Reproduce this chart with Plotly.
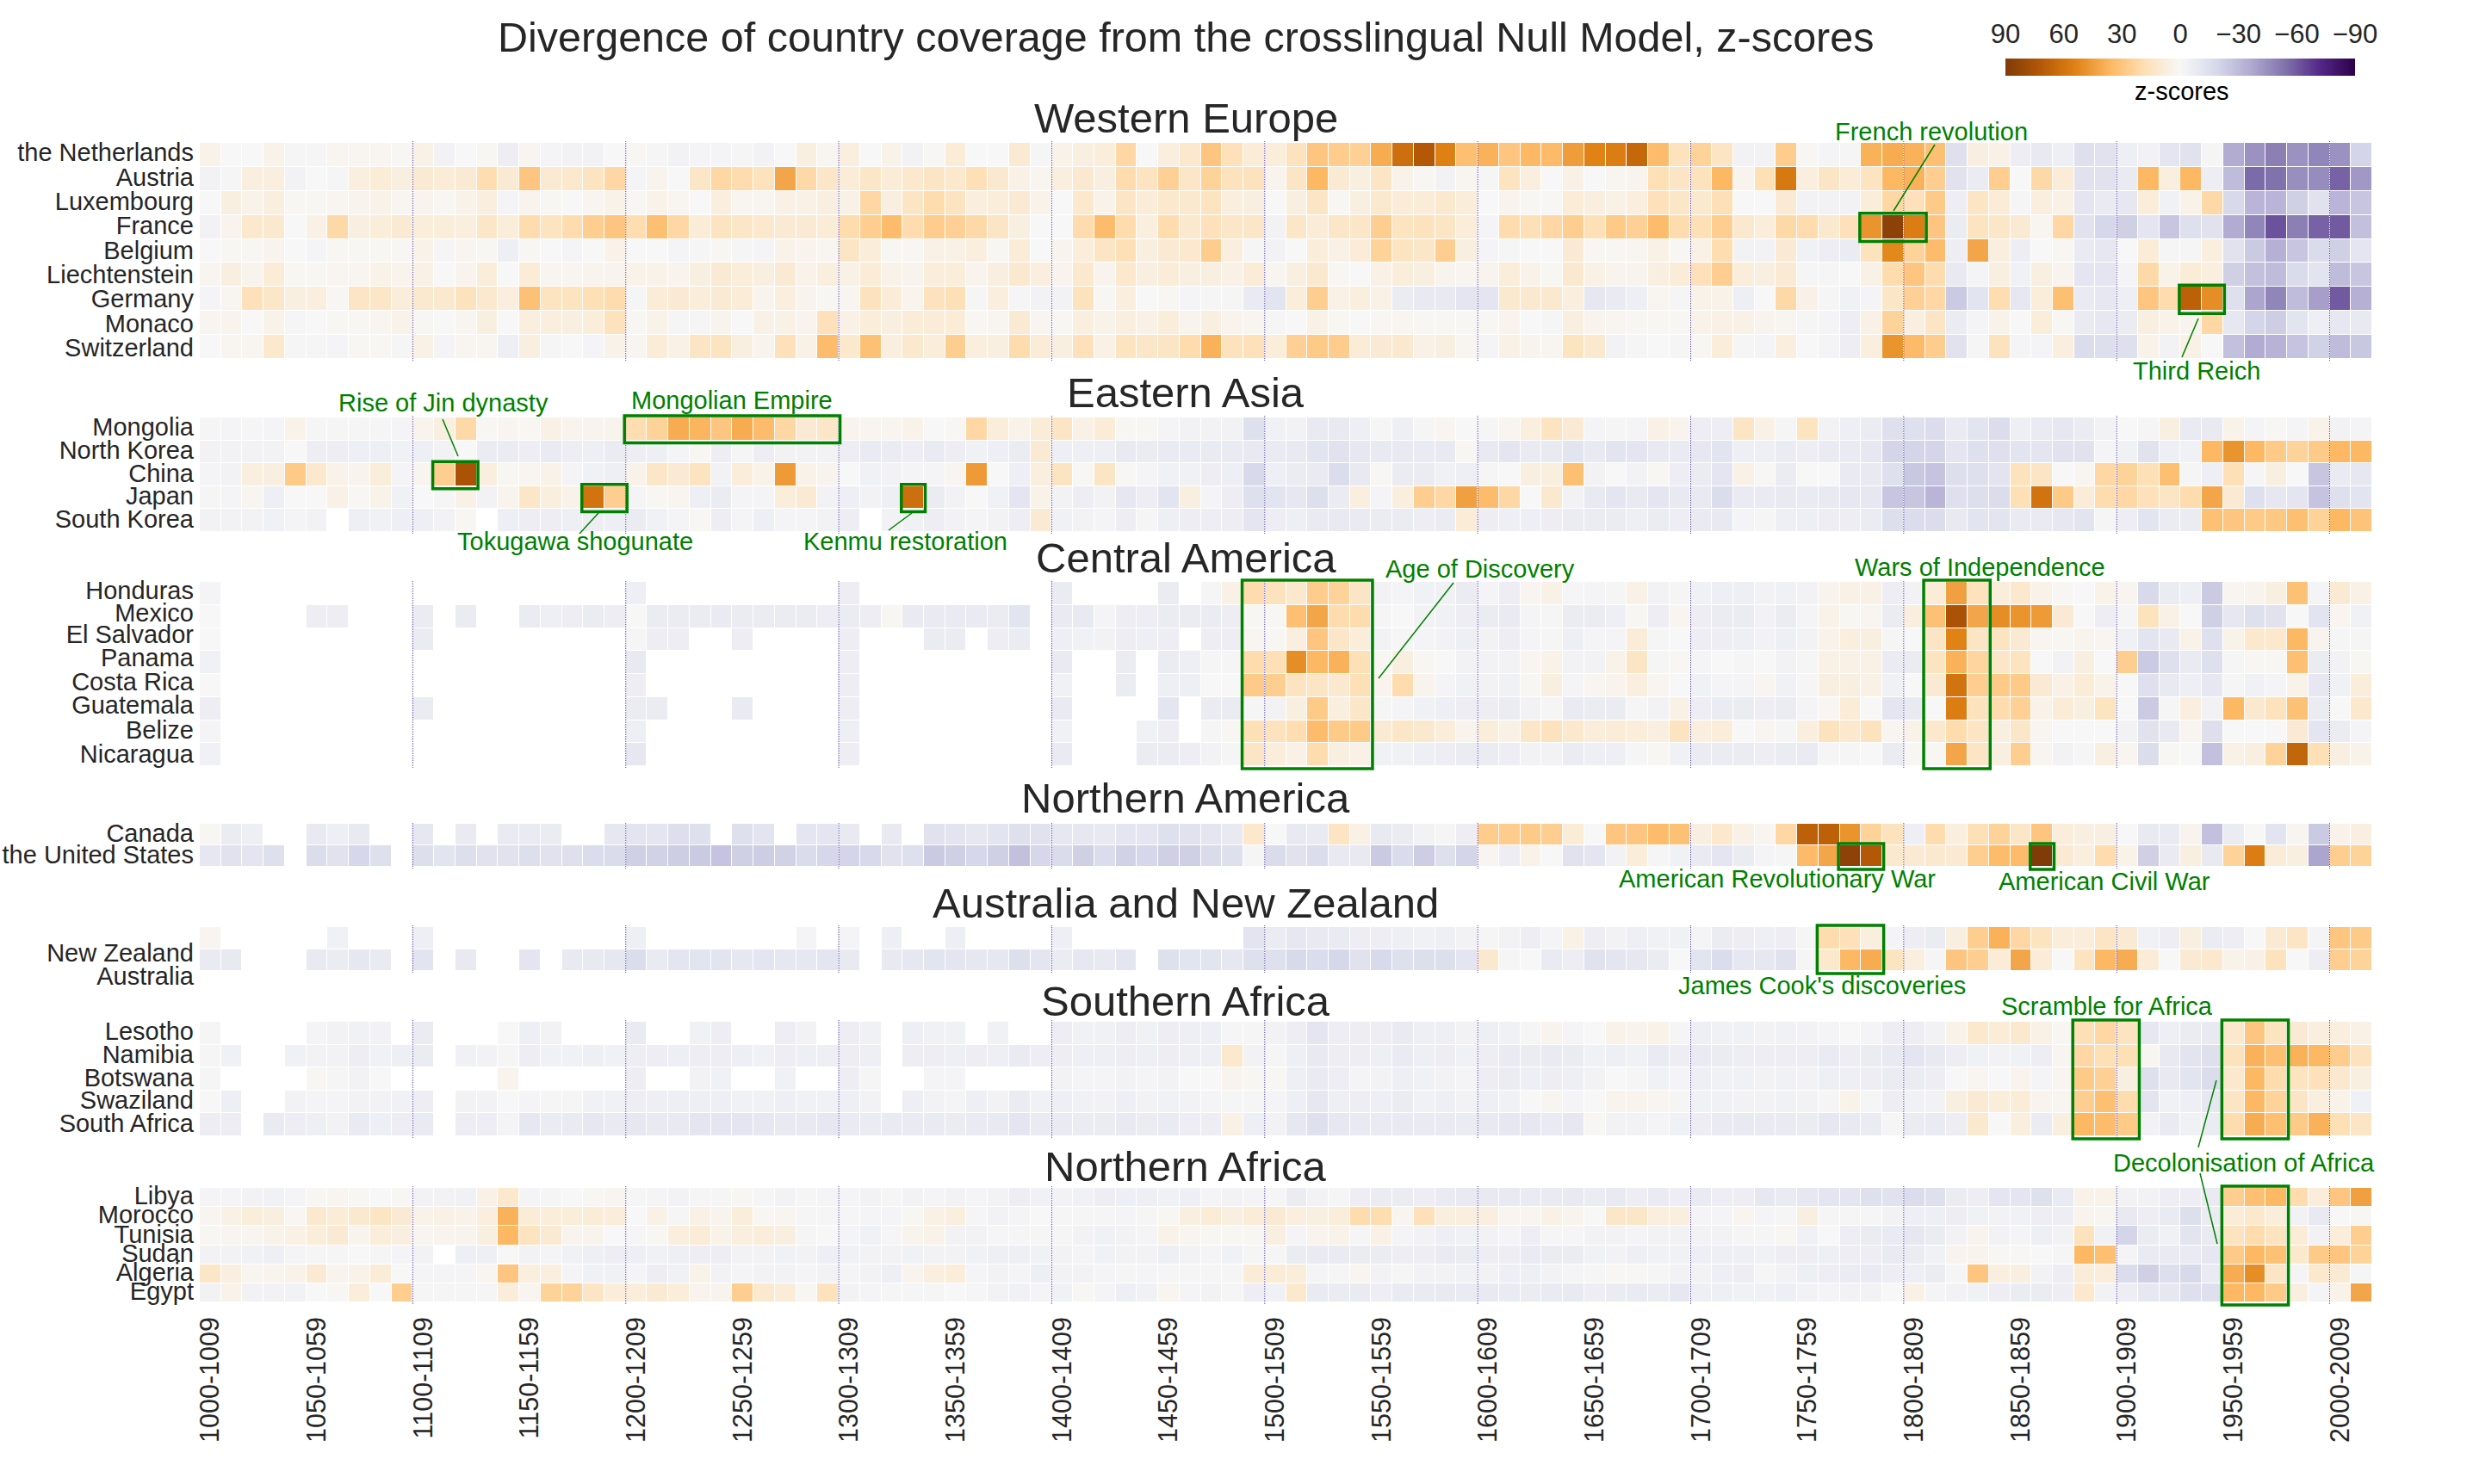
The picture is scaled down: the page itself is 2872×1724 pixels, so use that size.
import math
import plotly.graph_objects as go

_ = None
decades = [f"{y}-{y + 9}" for y in range(1000, 2020, 10)]

# z-scores, one list per country, 102 decades each
the_netherlands = [4,0,0,4,-1,-1,2,2,2,1, 5,-3,0,1,-6,2,-2,-3,-3,0,
    1,-1,-3,-2,-2,-1,-3,0,6,2, 7,0,4,-3,1,9,0,0,10,-1,
    4,6,8,22,0,7,12,30,17,9, 8,16,30,27,25,40,62,72,55,33,
    38,30,36,35,45,54,56,65,34,16, 24,14,-3,-3,27,1,-2,-1,38,40,
    38,33,-14,6,5,-6,-9,-5,-14,-13, -5,-3,-11,-13,-1,-36,-44,-50,-44,-48, -44,-20]
austria = [-3,-1,7,7,-3,0,-1,7,9,6, 10,9,10,19,10,30,10,12,15,22,
    -2,3,0,13,22,20,16,42,21,13, 9,13,9,12,14,12,18,11,5,2,
    7,11,6,20,15,25,13,24,16,16, 3,14,36,10,6,14,4,1,-3,2,
    -1,15,7,0,5,0,2,3,18,14, 16,36,3,18,58,7,14,9,15,36,
    38,26,-13,-7,26,0,21,9,-13,-13, -8,36,7,36,-6,-30,-56,-54,-45,-46, -58,-42]
luxembourg = [0,6,4,7,1,1,2,3,4,2, 3,1,4,7,-2,3,1,0,2,4,
    1,4,2,0,7,2,2,5,5,6, 5,22,6,14,20,15,7,8,10,4,
    0,12,4,14,9,12,11,15,7,6, 0,6,14,1,6,12,9,9,12,8,
    0,3,1,1,9,7,5,7,17,13, 11,18,0,0,10,-3,-3,-3,8,22,
    17,28,-6,14,9,-1,7,5,-11,-8, -10,8,-4,4,21,-18,-32,-32,-22,-13, -32,-26]
france = [-3,3,12,11,0,5,21,6,8,10, 8,8,7,13,8,20,15,20,26,30,
    19,33,22,9,15,13,12,10,10,9, 20,26,34,20,27,25,21,14,6,0,
    0,20,34,20,7,20,11,17,13,13, -3,13,9,13,13,26,15,16,14,8,
    -2,20,18,22,26,18,28,25,34,20, 18,26,11,8,21,20,11,17,48,86,
    56,30,-7,15,13,10,2,22,-13,-19, -22,-11,-26,-14,-13,-36,-48,-62,-50,-58, -60,-28]
belgium = [0,1,1,3,0,-2,1,1,1,1, 4,-1,2,1,-5,1,0,-2,0,4,
    0,0,-2,-1,1,-1,-2,4,3,2, 14,8,1,1,5,5,7,1,9,0,
    3,8,14,18,6,10,12,27,7,-1, -3,0,8,5,9,24,15,13,26,6,
    -2,-1,0,0,10,1,1,2,5,1, 5,19,-3,-3,10,-4,-6,-7,16,52,
    24,34,-6,42,7,-6,0,1,-8,-10, 0,9,-1,-1,7,-13,-24,-34,-26,-17, -22,-11]
liechtenstein = [2,6,3,9,1,1,2,2,4,3, 5,0,3,8,0,9,2,2,3,3,
    4,4,3,6,10,8,6,10,4,7, 5,9,4,3,8,8,3,6,11,7,
    3,12,3,12,6,9,6,6,5,9, 2,6,11,1,0,5,8,6,3,2,
    3,8,4,1,11,5,3,3,6,9, 17,26,8,6,10,-1,-1,0,5,20,
    30,20,-9,-2,6,-4,6,3,-11,-11, -2,21,4,9,7,-22,-28,-30,-17,-12, -30,-26]
germany = [-2,2,17,13,6,7,1,14,13,8, 11,11,16,12,7,32,15,15,18,20,
    -1,9,10,8,10,9,3,7,3,1, 2,16,9,3,16,18,-1,7,-1,-3,
    -3,16,1,7,0,1,-2,-1,-1,-8, -12,8,26,5,7,5,-7,-9,-9,-11,
    -11,11,11,11,7,-10,-8,-5,2,-1, 4,4,-5,0,21,5,-1,-4,-2,13,
    25,22,-24,-12,19,-10,8,33,-8,-10, -5,30,20,68,50,-14,-38,-48,-30,-40, -60,-34]
monaco = [2,3,0,4,-1,0,1,1,2,4, 1,0,2,6,0,7,7,6,8,16,
    1,4,-1,-1,3,0,5,5,3,17, 5,8,6,9,9,9,1,2,10,2,
    1,7,4,7,5,8,3,6,3,2, -1,0,5,1,0,1,2,1,1,1,
    1,3,0,-1,6,3,2,1,1,1, 4,5,5,3,2,-1,-2,-6,5,24,
    6,14,-7,-2,4,0,8,1,-8,-10, -7,6,4,3,22,-10,-20,-23,-12,-5, -10,-9]
switzerland = [0,2,2,12,-1,-1,-2,1,1,-1, 5,-2,2,2,-5,6,-1,0,-2,4,
    2,9,5,14,15,6,3,17,5,34, 12,32,7,11,8,26,7,6,20,9,
    6,17,5,15,13,14,20,38,16,17, 8,25,28,27,9,10,11,5,6,2,
    -2,5,3,2,15,11,-3,-1,0,-1, 1,8,-1,-2,7,0,-2,-6,7,48,
    35,27,-13,-1,16,-2,-2,7,-16,-15, -14,4,-3,5,0,-28,-36,-33,-27,-21, -30,-25]

mongolia = [-1,-2,-1,-2,4,-1,-1,-1,-1,-2, 3,6,21,1,2,1,5,3,3,3,
    19,24,40,37,30,40,34,22,10,13, 3,2,2,4,0,1,22,8,4,9,
    14,5,9,1,1,-2,-3,-3,-3,-14, -4,-3,-9,-9,-5,-1,-5,-1,2,0,
    -1,2,7,15,10,-2,-1,-2,5,3, -6,-6,14,5,-1,15,-3,-5,-7,-14,
    -14,-16,-8,-12,-16,-5,-8,-10,-7,-3, 0,-1,6,-8,-9,4,-2,1,-2,4, -3,-2]
north_korea = [-3,-3,-3,-3,0,-6,-6,-5,-5,-4, -5,-3,0,-7,-7,-6,-8,-6,-5,-7,
    -6,-5,-2,1,-6,-1,-6,-3,-3,-3, -6,-8,-7,-6,-8,-6,-4,-5,-7,10,
    -5,-5,-5,-9,-7,-8,-8,-8,-8,-9, -8,-9,-12,-13,-10,-9,-9,-8,-9,1,
    -9,-11,-8,-9,-12,-9,-12,-11,-9,-8, -10,-12,-5,-5,-7,-6,-8,-8,-10,-20,
    -20,-20,-11,-14,-14,-12,-11,-13,-13,-2, -4,-13,-5,-4,36,48,36,28,24,28, 36,36]
china = [-2,-3,7,6,28,12,4,3,8,-2, 2,26,75,7,1,2,4,-2,-4,-5,
    4,13,10,15,-3,8,4,46,4,3, 0,-4,-3,-2,-2,2,46,0,-5,7,
    15,1,14,1,-2,-4,-4,-6,-5,-18, -5,-7,-8,-16,-9,1,-7,-7,-4,-5,
    -1,0,6,7,33,-3,0,-3,1,-6, -7,-11,5,1,-7,0,0,-8,-9,-14,
    -25,-27,-15,-14,-12,16,14,0,2,22, 24,18,33,-1,-5,18,-1,6,0,-26, -8,-10]
japan = [-1,-2,2,-5,0,0,5,1,4,-4, 0,-1,5,-3,3,13,7,4,60,26,
    -2,1,2,-5,-7,-2,-2,8,10,-3, -5,-3,-5,62,-7,-3,0,-4,-11,4,
    -3,-6,-3,-10,-6,-12,6,-2,-6,-14, -12,-10,-15,-7,7,-2,7,26,22,44,
    34,22,0,11,-3,-9,-11,-9,-11,-9, -9,-16,-8,-8,-9,-8,-9,-10,-10,-26,
    -26,-32,-14,-15,-16,18,60,28,9,20, 22,17,14,20,42,10,-14,-10,-11,-27, -14,-12]
south_korea = [-3,-3,-3,-4,-2,-3,_,-5,-4,-5, -5,-3,1,_,-5,-6,-6,-5,-6,-5,
    -7,-4,-2,1,-6,-2,-5,-2,-2,-3, -6,_,-3,-4,-6,-3,-2,-3,-6,10,
    -4,-3,-2,-6,-1,-5,-6,-6,-6,-11, -6,-5,-8,-9,-8,-7,-7,-6,-7,9,
    -6,-5,-5,-6,-7,-7,-7,-5,-7,-6, -8,-9,-2,-1,-5,-5,-6,-6,-7,-15,
    -16,-16,-9,-12,-12,-8,-8,-10,-12,-1, -6,-12,-7,-7,32,30,28,29,33,24, 36,31]

honduras = [-2,_,_,_,_,_,_,_,_,_, _,_,_,_,_,_,_,_,_,_,
    -5,_,_,_,_,_,_,_,_,_, -6,_,_,_,_,_,_,_,_,_,
    -7,_,_,_,_,-7,_,-1,5,20, 16,12,27,24,14,-3,-2,-4,-4,-7,
    -2,-6,2,5,-1,-2,-1,5,-3,-1, -4,-5,-5,-3,-4,-3,3,5,5,-6,
    -3,9,44,16,8,12,4,1,0,4, 2,-18,-7,-5,-24,2,3,6,32,-2, 10,5]
mexico = [0,_,_,_,_,-6,-6,_,_,_, -7,_,-7,_,_,-7,-5,-6,-7,-6,
    0,-7,-7,-7,-8,-7,-7,-7,-7,-6, -7,-6,1,-8,-8,-8,-8,-7,-12,_,
    -8,-9,-2,-6,-6,-7,-7,-7,-6,1, 1,33,42,20,20,-1,0,-3,-4,-6,
    -7,-8,-2,-1,-7,-7,-5,1,-6,2, -6,-7,-7,-3,-7,-2,4,1,2,-7,
    7,32,75,42,50,48,46,10,0,-6, -1,16,5,0,-22,-10,-14,-13,0,-12, 2,-4]
el_salvador = [0,_,_,_,_,_,_,_,_,_, -7,_,_,_,_,_,_,_,_,_,
    -1,-6,-6,_,_,-6,_,_,_,_, -6,_,_,_,-7,-7,_,-6,-7,_,
    -5,-4,-3,-6,-5,-6,_,-6,-6,2, 1,7,30,13,8,-3,-1,-2,-3,-5,
    -3,-6,-2,-1,-5,-2,-2,9,-1,0, -6,-6,-5,-3,-5,-3,4,7,6,-1,
    0,14,54,14,15,10,2,1,3,2, -4,-12,-9,4,-14,4,12,12,36,3, -1,-1]
panama = [-4,_,_,_,_,_,_,_,_,_, _,_,_,_,_,_,_,_,_,_,
    -9,_,_,_,_,_,_,_,_,_, -6,_,_,_,_,_,_,_,_,_,
    -8,_,_,-7,_,-7,-5,-1,-1,20, 18,50,36,38,18,1,6,1,0,-3,
    -3,-3,2,4,-3,-3,4,14,-1,1, -2,0,-1,0,-3,-1,5,5,5,-7,
    -7,15,38,23,13,15,0,-3,6,0, 26,-24,-14,-8,-14,-1,1,1,33,-7, -3,1]
costa_rica = [0,_,_,_,_,_,_,_,_,_, _,_,_,_,_,_,_,_,_,_,
    -6,_,_,_,_,_,_,_,_,_, -6,_,_,_,_,_,_,_,_,_,
    -4,_,_,-7,_,-5,-5,0,0,28, 26,15,14,11,18,3,20,3,-2,-4,
    -3,-4,1,6,-2,2,3,7,2,0, -4,-2,-2,2,-4,-1,6,6,5,-4,
    0,10,60,26,28,28,10,5,9,4, 0,-14,-9,-5,-10,-1,-4,-2,4,-10, -4,8]
guatemala = [-6,_,_,_,_,_,_,_,_,_, -7,_,_,_,_,_,_,_,_,_,
    -7,-7,_,_,_,-8,_,_,_,_, -6,_,_,_,_,_,_,_,_,_,
    -8,_,_,_,_,-11,_,-7,-7,-1, -3,6,28,7,13,-1,-2,-4,-5,-6,
    -6,-7,-3,-1,-8,-7,-7,-1,-3,5, -6,-7,-7,-6,-7,-2,1,9,0,-11,
    -9,0,56,16,20,25,4,9,6,15, 0,-24,-1,7,-3,36,11,16,32,-7, 0,12]
belize = [-2,_,_,_,_,_,_,_,_,_, _,_,_,_,_,_,_,_,_,_,
    -5,_,_,_,_,_,_,_,_,_, -5,_,_,_,_,_,_,_,_,_,
    -4,_,_,_,-4,-6,_,-1,1,18, 16,19,34,28,28,10,13,11,8,3,
    8,5,13,16,12,8,9,8,6,15, 7,8,0,2,-1,7,16,12,16,2,
    4,12,20,14,6,13,2,0,0,0, -3,-13,-9,2,-15,0,0,0,10,-11, -7,-2]
nicaragua = [-4,_,_,_,_,_,_,_,_,_, _,_,_,_,_,_,_,_,_,_,
    -10,_,_,_,_,_,_,_,_,_, -6,_,_,_,_,_,_,_,_,_,
    -8,_,_,_,-7,-7,-6,-3,-1,14, 8,5,20,6,5,-4,-4,-5,-6,-7,
    -7,-6,-3,-3,-7,-5,-5,-1,1,-4, -7,-7,-7,-6,-7,-8,-1,-1,0,-7,
    1,1,42,14,6,26,2,-3,-1,6, 2,-16,1,0,-28,5,6,24,66,18, 6,4]

canada = [1,-7,-5,_,_,-9,-5,-9,_,_, -10,_,-8,_,-8,-8,-7,_,_,-10,
    -12,-11,-15,-14,_,-14,-12,_,-11,-11, -9,_,-9,_,-13,-12,-10,-12,-14,-13,
    -10,-10,-9,-11,-11,-14,-13,-11,-9,12, 0,-9,-8,14,5,-9,-7,-3,-1,-6,
    27,27,28,26,9,0,30,30,34,32, 6,12,5,2,22,68,68,48,24,16,
    -5,20,7,18,24,13,30,8,6,6, 0,-9,-8,3,-28,-7,0,-12,2,-24, 4,6]
the_united_states = [-10,-13,-11,-14,_,-16,-13,-19,-14,_, -15,-12,-15,-13,-13,-15,-13,-14,-16,-17,
    -22,-21,-23,-24,-27,-22,-23,-21,-17,-19, -20,-18,-13,-14,-24,-22,-19,-22,-28,-19,
    -17,-22,-16,-21,-19,-22,-22,-17,-14,-1, -17,-13,-16,-9,-9,-24,-17,-23,-14,-20,
    2,-6,4,0,-13,-11,-3,8,-1,-4, -8,-11,-7,-2,-1,35,42,85,72,12,
    10,11,10,26,34,34,90,10,7,20, 4,-22,-8,6,-9,24,56,9,6,-38, 26,24]

new_zealand = [2,_,_,_,_,_,-4,_,_,_, -5,_,_,_,_,_,_,_,_,_,
    -5,_,_,_,_,_,_,_,-2,_, -2,_,-5,_,_,-5,_,_,_,_,
    -5,_,_,_,_,_,_,_,_,-12, -7,-10,-9,-8,-6,-6,-5,-4,-5,-3,
    -1,-3,-6,-2,5,-6,-3,-5,-4,-4, -2,-7,-6,-5,-6,-1,20,17,7,-2,
    -6,-7,6,26,38,22,15,8,8,14, 10,-4,-6,6,-7,-6,0,10,14,-2, 30,28]
australia = [-8,-9,_,_,_,-9,-7,-10,-8,_, -12,_,-9,_,_,-11,_,-9,-9,-10,
    -16,-8,-11,-12,-12,-10,-11,-10,-10,-11, -9,_,-9,-10,-12,-11,-10,-10,-15,-11,
    -7,-10,-9,-11,_,-14,-12,-12,-10,-14, -14,-18,-16,-19,-13,-18,-14,-15,-15,-11,
    11,-1,0,-8,-6,-13,-11,-10,-7,0, -12,-16,-10,-10,-13,-1,12,36,40,15,
    7,-1,30,26,9,42,9,0,15,36, 40,9,0,10,12,4,5,16,0,-6, 26,24]

lesotho = [-1,_,_,_,_,-2,-3,-4,-3,_, -7,_,_,_,0,-5,-3,_,_,_,
    -8,_,_,-4,-6,_,_,-6,-3,_, -6,-4,_,-5,-4,-4,_,-4,_,_,
    -6,-4,-4,-6,-4,-6,-5,-5,-1,-1, -3,-6,-11,-6,-6,-6,-8,-5,-5,-3,
    -5,-4,-1,3,-2,0,4,3,4,-1, -5,-4,-4,-3,-4,-3,-2,0,-2,-6,
    -6,-3,4,12,9,11,5,1,18,22, 15,-10,-5,-7,-9,12,30,15,10,7, 7,5]
namibia = [-1,-4,_,_,-4,-3,-3,-6,-4,-5, -7,_,-4,-3,-1,-6,-4,-4,-5,-4,
    -6,-6,-5,-6,-6,-5,-4,-6,-5,-5, -6,-5,_,-6,-6,-5,-6,-5,-8,-6,
    -6,-5,-5,-6,-5,-6,-5,-5,12,-3, -1,-5,-9,-6,-6,-5,-8,-5,-6,-4,
    -6,-8,-7,-8,-7,-4,-5,-4,-8,-6, -8,-7,-6,-6,-6,-6,-8,-6,-7,-9,
    -11,-9,-6,-4,-3,-4,-6,2,22,18, 18,2,-9,-12,-14,16,38,33,38,36, 27,16]
botswana = [-1,_,_,_,_,1,-1,-3,0,_, _,_,_,_,3,_,_,_,_,_,
    -6,_,_,-3,-4,_,_,-4,_,_, -6,-1,_,_,-2,-2,_,_,_,_,
    -3,-2,-2,-3,-2,-3,0,0,3,1, 1,-5,-8,-6,-2,-3,-5,-4,-3,-2,
    -6,-7,-5,-6,-5,-3,0,-1,-4,-2, -5,-4,-4,-3,-4,-3,-5,-5,-6,-7,
    -7,-6,0,2,0,3,-2,2,28,25, 6,-14,-9,-12,-16,12,36,20,15,17, 11,6]
swaziland = [0,-5,_,_,-3,-2,-2,-3,-3,-4, -6,_,-3,-3,0,-2,-1,-1,-4,-4,
    -6,-5,-5,-5,-5,-4,-4,-5,-4,-4, -5,-3,_,-5,-3,-2,-5,-3,-7,-4,
    -5,-4,-3,-5,-3,-4,-3,-2,-1,-1, -2,-5,-10,-5,-6,-5,-7,-4,-5,-3,
    -5,-4,0,2,-2,0,3,3,2,-1, -4,-4,-3,-3,-4,-3,-1,4,-1,-6,
    -4,-3,6,10,8,9,3,2,26,33, 20,-12,-4,-5,-10,14,36,24,14,7, 4,-4]
south_africa = [-6,-6,_,-8,-6,-5,-3,-8,-5,-6, -8,_,-6,-6,-2,-10,-7,-8,-10,-8,
    -10,-9,-9,-11,-11,-11,-10,-9,-9,-10, -8,-7,-8,-8,-8,-7,-8,-9,-11,-8,
    -8,-7,-7,-9,-7,-8,-6,-6,5,-5, -3,-10,-14,-10,-9,-8,-9,-8,-8,-7,
    -9,-10,-10,-8,-10,1,-3,-3,-2,-4, -6,-8,-9,-8,-8,-7,-10,-9,-7,-1,
    -7,-8,-6,11,0,7,-7,6,36,34, 28,-3,-8,-4,-7,20,40,33,28,38, 18,14]

libya = [-2,-2,-3,-4,-2,1,2,1,0,1, -3,-3,-4,5,12,-2,-1,0,1,2,
    -1,-2,-3,-1,-1,1,-1,-3,-1,-2, -2,-3,-1,-3,-2,-3,-2,-3,-6,-4,
    -3,-4,-6,-5,-5,-4,-5,-2,-3,-2, -1,-7,-3,-1,-6,-7,-7,-6,-8,-9,
    -9,-9,-8,-8,-9,-7,-9,-6,-8,-6, -8,-6,-6,-10,-8,-10,-11,-11,-14,-13,
    -16,-14,-7,-6,-11,-11,-14,-8,4,4, -3,-3,-6,-6,-8,26,33,36,20,8, 30,44]
morocco = [2,5,8,6,1,11,9,11,14,10, 4,5,4,7,38,9,8,8,9,8,
    0,5,-1,5,3,8,1,2,-1,-1, -1,-2,-2,1,5,7,-1,-3,-2,0,
    -1,-1,-1,-2,-1,1,6,9,6,9, 10,7,6,8,20,19,2,17,7,7,
    7,2,2,5,3,0,13,13,7,7, -2,-2,2,-2,-1,6,-1,-1,-1,-3,
    -5,-5,-6,-4,-3,-4,-6,-6,3,2, -9,-6,-8,-15,-7,9,12,8,-3,-9, 0,1]
tunisia = [1,2,2,4,5,8,10,3,8,6, 2,3,3,6,36,15,10,3,3,0,
    -1,1,7,9,4,7,8,6,-1,0, -2,-4,-1,3,4,-3,-3,-1,-1,-1,
    -1,-3,-4,-3,-2,4,2,1,1,1, 6,-2,3,4,-1,5,-2,-3,-5,-4,
    -3,-2,-6,-1,-1,-3,-3,-2,-3,-3, -3,-3,-1,-1,1,-4,0,-6,-7,-8,
    -10,-7,-3,3,-3,-2,-5,-3,16,-4, -20,-7,-4,-12,-8,15,20,15,9,-3, 8,26]
sudan = [-3,-3,-4,-5,-2,-1,-1,0,-1,-2, -3,_,-5,-5,0,-3,-2,-4,-5,-6,
    -5,-4,-5,-6,-6,-3,-3,-4,-3,-5, -4,-3,-3,-4,-3,-3,-4,-5,-5,-4,
    -3,-2,-4,-3,-3,-5,-3,-2,-4,-1, -1,-7,-8,-8,-7,-7,-6,-6,-8,-7,
    -6,-6,-8,-7,-7,-4,-3,-5,-4,-4, -5,-5,-5,-4,-6,-6,-5,-6,-6,-8,
    -7,-4,3,3,1,1,0,-1,36,33, -2,-8,-8,-8,-10,28,36,32,12,28, 30,24]
algeria = [13,6,2,3,4,10,3,4,9,0, -2,-2,-2,2,30,7,7,-2,-4,-4,
    -2,-6,-4,4,-3,-2,-3,-3,-2,-3, -2,-3,-5,3,7,8,-2,-3,-2,-5,
    -3,-3,-2,-1,-2,-1,-1,-1,-1,9, 9,8,-2,-1,2,-3,-1,-3,-3,-4,
    -3,-5,-5,-3,-2,-1,1,1,-1,-3, -3,-5,-6,-1,-3,-5,-6,-7,-8,-6,
    -5,-7,-1,30,7,6,-3,-6,9,8, -16,-22,-15,-18,-8,40,50,14,-2,12, 10,-1]
egypt = [-3,4,-3,-3,-3,0,1,8,0,26, -1,-1,-1,-1,8,2,24,24,14,8,
    8,10,8,3,3,26,11,9,1,16, -3,-2,-1,-1,-1,0,-1,-3,-4,-2,
    -4,1,-2,-5,-4,2,-2,-3,-1,-6, -4,12,-8,-7,-8,-6,-8,-8,-9,-8,
    -9,-8,-7,-8,-9,-6,-7,-8,-7,-10, -5,-5,-4,-4,-5,-3,-2,-3,-3,0,
    5,-2,-3,-4,-6,-7,-7,-6,12,-3, -6,-10,-10,-14,-14,36,36,28,6,-2, 4,42]

WIDTH, HEIGHT = 2872, 1724
LEFT, RIGHT = 232, 2755
GREEN = "#008000"
TEXT = "#262626"
FONT = "Liberation Sans"


def px(x):
    return x / WIDTH


def py(y):
    return 1 - y / HEIGHT


# title, top, bottom, title y, row labels, rows, label positions
panels = [
    ("Western Europe", 166, 417, 137,
     ["the Netherlands", "Austria", "Luxembourg", "France", "Belgium", "Liechtenstein", "Germany", "Monaco", "Switzerland"],
     [the_netherlands, austria, luxembourg, france, belgium, liechtenstein, germany, monaco, switzerland],
     [-0.1, 0.92, 1.93, 2.95, 3.97, 4.98, 6.0, 7.02, 8.03]),
    ("Eastern Asia", 485, 618, 456,
     ["Mongolia", "North Korea", "China", "Japan", "South Korea"],
     [mongolia, north_korea, china, japan, south_korea], None),
    ("Central America", 676, 890, 648,
     ["Honduras", "Mexico", "El Salvador", "Panama", "Costa Rica", "Guatemala", "Belize", "Nicaragua"],
     [honduras, mexico, el_salvador, panama, costa_rica, guatemala, belize, nicaragua],
     [-0.12, 0.85, 1.78, 2.78, 3.83, 4.83, 5.93, 6.98]),
    ("Northern America", 957, 1007, 927,
     ["Canada", "the United States"], [canada, the_united_states], None),
    ("Australia and New Zealand", 1077, 1128, 1049,
     ["New Zealand", "Australia"], [new_zealand, australia], [0.68, 1.74]),
    ("Southern Africa", 1187, 1320, 1163,
     ["Lesotho", "Namibia", "Botswana", "Swaziland", "South Africa"],
     [lesotho, namibia, botswana, swaziland, south_africa], None),
    ("Northern Africa", 1380, 1513, 1355,
     ["Libya", "Morocco", "Tunisia", "Sudan", "Algeria", "Egypt"],
     [libya, morocco, tunisia, sudan, algeria, egypt], None),
]

# panel index, first row, last row, first decade, last decade
event_boxes = [
    (0, 3, 3, 78, 80), (0, 6, 6, 93, 94),
    (1, 2, 2, 11, 12), (1, 0, 0, 20, 29), (1, 3, 3, 18, 19), (1, 3, 3, 33, 33),
    (2, 0, 7, 49, 54), (2, 0, 7, 81, 83),
    (3, 1, 1, 77, 78), (3, 1, 1, 86, 86),
    (4, 0, 1, 76, 78),
    (5, 0, 4, 88, 90), (5, 0, 4, 95, 97),
    (6, 0, 5, 95, 97),
]

event_labels = [
    ("French revolution", 2243, 153), ("Third Reich", 2551, 431),
    ("Rise of Jin dynasty", 515, 468), ("Mongolian Empire", 850, 465),
    ("Tokugawa shogunate", 668, 629), ("Kenmu restoration", 1051, 629),
    ("Age of Discovery", 1719, 661), ("Wars of Independence", 2299, 659),
    ("American Revolutionary War", 2064, 1021), ("American Civil War", 2444, 1024),
    ("James Cook's discoveries", 2116, 1145), ("Scramble for Africa", 2447, 1169),
    ("Decolonisation of Africa", 2606, 1351),
]

event_leaders = [
    (2247, 168, 2199, 245), (2553, 370, 2534, 415), (514, 487, 532, 530),
    (695, 596, 673, 620), (1059, 596, 1032, 616), (1688, 677, 1601, 788),
    (2574, 1255, 2553, 1333), (2555, 1363, 2575, 1445),
]

for title, top, bottom, title_y, names, rows, label_pos in panels:
    for row in rows:
        assert len(row) == 102, (title, len(row))

fig = go.Figure()
shapes = []
annotations = []
axes = {}

for i, (title, top, bottom, title_y, names, rows, label_pos) in enumerate(panels):
    n = i + 1
    suffix = "" if i == 0 else str(n)
    fig.add_trace(go.Heatmap(
        z=rows, x=list(range(102)), y=list(range(len(rows))),
        zmin=-90, zmax=90, colorscale="PuOr_r", showscale=False,
        xgap=1, ygap=1, xaxis="x" + suffix, yaxis="y" + suffix,
    ))
    last = i == len(panels) - 1
    row_h = (bottom - top) / len(rows)
    # Australia's label sits below its row, so the axis gets a spare empty row
    n_rows = len(rows)
    if label_pos:
        n_rows = max(n_rows, math.ceil(max(label_pos) + 0.5))
    axis_bottom = top + row_h * n_rows
    # labels sit a touch above the row centres
    tick_rows = label_pos or [r - 2 / row_h for r in range(len(rows))]
    axes["xaxis" + suffix] = dict(
        domain=[px(LEFT), px(RIGHT)], range=[-0.5, 101.5], anchor="y" + suffix,
        showgrid=False, zeroline=False, showline=False, ticks="", automargin=False,
        showticklabels=last, tickmode="array", tickvals=list(range(0, 102, 5)),
        ticktext=decades[::5], tickangle=-90, ticklabelstandoff=10,
        tickfont=dict(family=FONT, size=30.5, color=TEXT),
    )
    axes["yaxis" + suffix] = dict(
        domain=[py(axis_bottom), py(top)], range=[n_rows - 0.5, -0.5], anchor="x" + suffix,
        showgrid=False, zeroline=False, showline=False, ticks="", automargin=False,
        tickmode="array", tickvals=tick_rows, ticktext=names,
        ticklabelstandoff=6, tickfont=dict(family=FONT, size=29, color=TEXT),
    )
    annotations.append(dict(
        text=title, x=px(1377), y=py(title_y), xref="paper", yref="paper",
        showarrow=False, xanchor="center", yanchor="middle",
        font=dict(family=FONT, size=49, color=TEXT),
    ))
    # century separators
    for col in range(10, 102, 10):
        shapes.append(dict(
            type="line", xref="x" + suffix, yref="paper", x0=col - 0.5, x1=col - 0.5,
            y0=py(bottom + 2), y1=py(top - 2),
            line=dict(color="#5b48b0", width=1, dash="1px,1px"),
        ))

# boxes stand a little proud of the cells they mark; paper y so they are not clipped
col_w = (RIGHT - LEFT) / 102
for panel, r0, r1, c0, c1 in event_boxes:
    suffix = "" if panel == 0 else str(panel + 1)
    top, bottom = panels[panel][1], panels[panel][2]
    row_h = (bottom - top) / len(panels[panel][5])
    shapes.append(dict(
        type="rect", xref="x" + suffix, yref="paper",
        x0=c0 - 0.5 - 1.5 / col_w, x1=c1 + 0.5 + 1.5 / col_w,
        y0=py(top + row_h * r0 - 2), y1=py(top + row_h * (r1 + 1) + 3),
        line=dict(color=GREEN, width=3.5), fillcolor="rgba(0,0,0,0)",
    ))

for x0, y0, x1, y1 in event_leaders:
    shapes.append(dict(
        type="line", xref="paper", yref="paper", x0=px(x0), y0=py(y0), x1=px(x1), y1=py(y1),
        line=dict(color=GREEN, width=1.5),
    ))

for text, x, y in event_labels:
    annotations.append(dict(
        text=text, x=px(x), y=py(y), xref="paper", yref="paper", showarrow=False,
        xanchor="center", yanchor="middle", font=dict(family=FONT, size=29, color=GREEN),
    ))

annotations.append(dict(
    text="Divergence of country coverage from the crosslingual Null Model, z-scores",
    x=px(1377), y=py(43), xref="paper", yref="paper", showarrow=False,
    xanchor="center", yanchor="middle", font=dict(family=FONT, size=48.5, color=TEXT),
))
annotations.append(dict(
    text="z-scores", x=px(2534), y=py(106), xref="paper", yref="paper", showarrow=False,
    xanchor="center", yanchor="middle", font=dict(family=FONT, size=29, color="#000000"),
))

# colour scale, 90 on the left
scale_values = list(range(90, -91, -1))
fig.add_trace(go.Heatmap(
    z=[scale_values], x=scale_values, y=[0], zmin=-90, zmax=90, colorscale="PuOr_r",
    showscale=False, xaxis="x8", yaxis="y8",
))
axes["xaxis8"] = dict(
    domain=[px(2329), px(2735)], range=[90, -90], anchor="y8", side="top",
    showgrid=False, zeroline=False, ticks="", tickmode="array", automargin=False,
    tickvals=[90, 60, 30, 0, -30, -60, -90], ticklabelstandoff=11,
    tickfont=dict(family=FONT, size=31, color=TEXT),
)
axes["yaxis8"] = dict(
    domain=[py(88), py(68)], range=[-0.5, 0.5], anchor="x8", automargin=False,
    showgrid=False, zeroline=False, showticklabels=False, ticks="",
)

fig.update_layout(
    width=WIDTH, height=HEIGHT, autosize=False,
    margin=dict(l=0, r=0, t=0, b=0),
    paper_bgcolor="white", plot_bgcolor="white",
    shapes=shapes, annotations=annotations, showlegend=False,
    **axes,
)
fig.write_html("out.html", config={"displayModeBar": False},
               post_script="document.body.style.margin='0';")
